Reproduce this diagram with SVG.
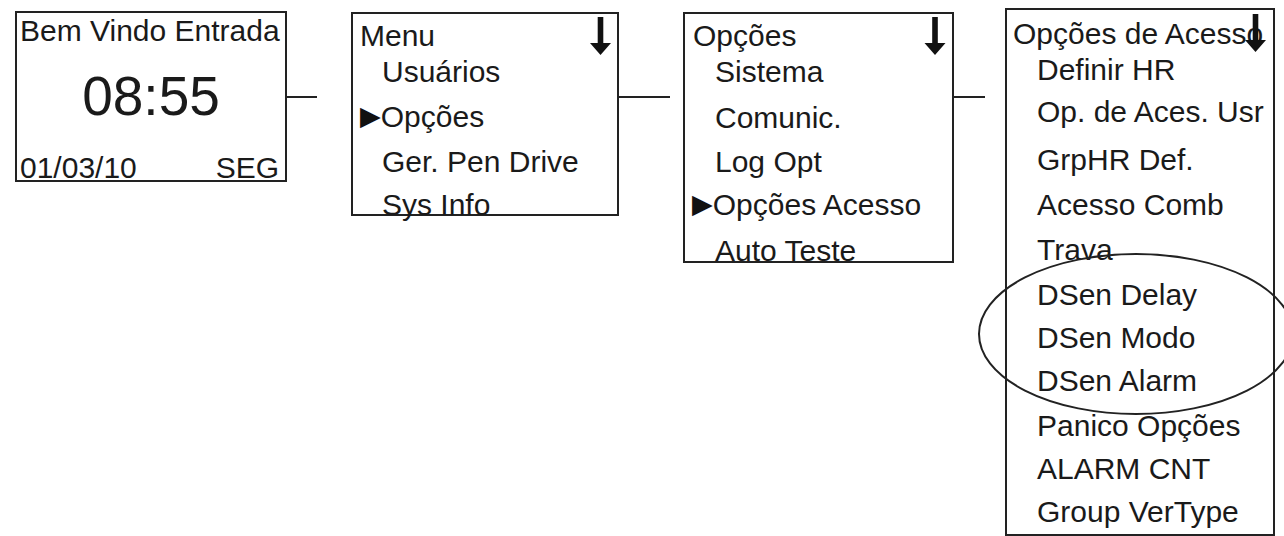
<svg xmlns="http://www.w3.org/2000/svg" width="1284" height="536" viewBox="0 0 1284 536">
<style>
.box{fill:#fff;stroke:#222;stroke-width:2}
.t{font-family:"Liberation Sans",Arial,sans-serif;font-size:30px;fill:#1a1a1a}
.big{font-family:"Liberation Sans",Arial,sans-serif;font-size:55px;fill:#1a1a1a}
.con{stroke:#222;stroke-width:2;fill:none}
.arr{fill:#111}
.sel{font-family:"DejaVu Sans",sans-serif;font-size:27px;fill:#111}
</style>
<defs>
<g id="down">
<rect x="-2.8" y="0" width="5.6" height="28"/>
<polygon points="-10.5,26 10.5,26 0,38"/>
</g>
</defs>
<rect width="1284" height="536" fill="#fff"/>
<g id="connectors">
<line class="con" x1="286" y1="97" x2="317" y2="97"/>
<line class="con" x1="618" y1="97" x2="670" y2="97"/>
<line class="con" x1="953" y1="97" x2="985" y2="97"/>
</g>
<g id="screen-welcome">
<rect class="box" x="16" y="12" width="270" height="169"/>
<text class="t" x="20" y="41">Bem Vindo Entrada</text>
<text class="big" x="151" y="115" text-anchor="middle">08:55</text>
<text class="t" x="20" y="178">01/03/10</text>
<text class="t" x="279" y="178" text-anchor="end">SEG</text>
</g>
<g id="screen-menu">
<rect class="box" x="352" y="13" width="266" height="202"/>
<text class="t" x="360" y="46">Menu</text>
<use href="#down" class="arr" x="600.5" y="17"/>
<text class="t" x="382" y="82">Usuários</text>
<text class="t" x="360" y="127"><tspan class="sel" dy="-2">▶</tspan><tspan dy="2">Opções</tspan></text>
<text class="t" x="382" y="172">Ger. Pen Drive</text>
<text class="t" x="382" y="215">Sys Info</text>
</g>
<g id="screen-opcoes">
<rect class="box" x="684" y="13" width="269" height="249"/>
<text class="t" x="693" y="46">Opções</text>
<use href="#down" class="arr" x="935" y="17"/>
<text class="t" x="715" y="82">Sistema</text>
<text class="t" x="715" y="128">Comunic.</text>
<text class="t" x="715" y="172">Log Opt</text>
<text class="t" x="692" y="215"><tspan class="sel" dy="-2">▶</tspan><tspan dy="2">Opções Acesso</tspan></text>
<text class="t" x="715" y="261">Auto Teste</text>
</g>
<g id="screen-acesso">
<rect class="box" x="1006" y="9" width="268" height="526"/>
<text class="t" x="1013" y="44">Opções de Acesso</text>
<use href="#down" class="arr" x="1255.5" y="14"/>
<text class="t" x="1037" y="80">Definir HR</text>
<text class="t" x="1037" y="122">Op. de Aces. Usr</text>
<text class="t" x="1037" y="170">GrpHR Def.</text>
<text class="t" x="1037" y="215">Acesso Comb</text>
<text class="t" x="1037" y="260">Trava</text>
<text class="t" x="1037" y="305">DSen Delay</text>
<text class="t" x="1037" y="348">DSen Modo</text>
<text class="t" x="1037" y="391">DSen Alarm</text>
<text class="t" x="1037" y="436">Panico Opções</text>
<text class="t" x="1037" y="479">ALARM CNT</text>
<text class="t" x="1037" y="522">Group VerType</text>
</g>
<g id="highlight">
<ellipse class="con" cx="1136" cy="334" rx="157" ry="80"/>
</g>
</svg>
